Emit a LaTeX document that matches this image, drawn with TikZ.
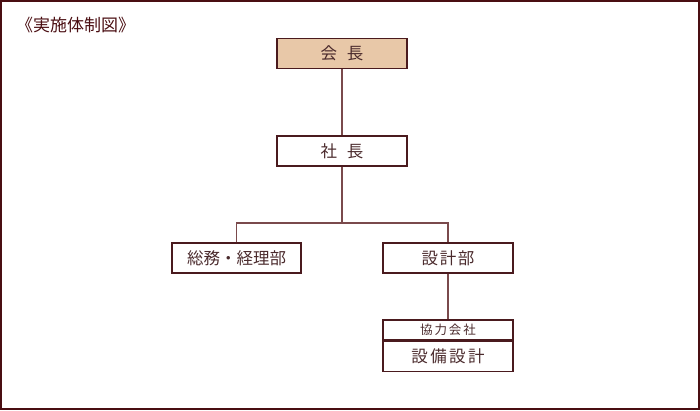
\documentclass[tikz,border=0pt]{standalone}
\usepackage{fontspec}
\newfontfamily\jp{Noto Sans CJK JP}
\definecolor{frame}{HTML}{4A0E12}
\definecolor{boxline}{HTML}{4A1A1E}
\definecolor{conn}{HTML}{7A4A4C}
\definecolor{txt}{HTML}{4A2A2C}
\definecolor{tan}{HTML}{E8C8A8}
\tikzset{
  orgbox/.style={draw=boxline, line width=1.2pt, minimum width=130pt, minimum height=30pt, inner sep=0pt, text=txt, font=\jp\fontsize{16.5}{16.5}\selectfont},
  smallbox/.style={draw=boxline, line width=1.2pt, minimum width=130pt, minimum height=20pt, inner sep=0pt, text=txt, font=\jp\fontsize{12.5}{12.5}\selectfont},
  connector/.style={draw=conn, line width=1.2pt}
}
\begin{document}
\begin{tikzpicture}[x=1pt,y=-1pt]
\useasboundingbox (0,0) rectangle (700,410);
\draw[frame, line width=2pt] (1,1) rectangle (699,409);
\node[anchor=west, text=frame, font=\jp\fontsize{17}{17}\selectfont, inner sep=0pt] (title) at (16,25) {《実施体制図》};
\node[orgbox, fill=tan] (kaicho) at (342,53.5) {会\hspace{0.6em}長};
\node[orgbox] (shacho) at (342,151) {社\hspace{0.6em}長};
\node[orgbox, minimum width=129pt] (somu) at (236.5,258) {総務・経理部};
\node[orgbox] (sekkei) at (448,258) {設\hspace{0.1em}計\hspace{0.1em}部};
\node[smallbox] (kyoryoku) at (448,330) {協\hspace{0.15em}力\hspace{0.15em}会\hspace{0.15em}社};
\node[orgbox, anchor=north] (setsubi) at (kyoryoku.south) {設\hspace{0.15em}備\hspace{0.15em}設\hspace{0.15em}計};
\coordinate (branch) at (342,223);
\coordinate (bl) at (somu.north |- branch);
\coordinate (br) at (sekkei.north |- branch);
\draw[connector] (kaicho.south) -- (shacho.north);
\draw[connector] (shacho.south) -- (branch);
\draw[connector] (somu.north) -- (bl) -- (br) -- (sekkei.north);
\draw[connector] (sekkei.south) -- (kyoryoku.north);
\end{tikzpicture}
\end{document}
